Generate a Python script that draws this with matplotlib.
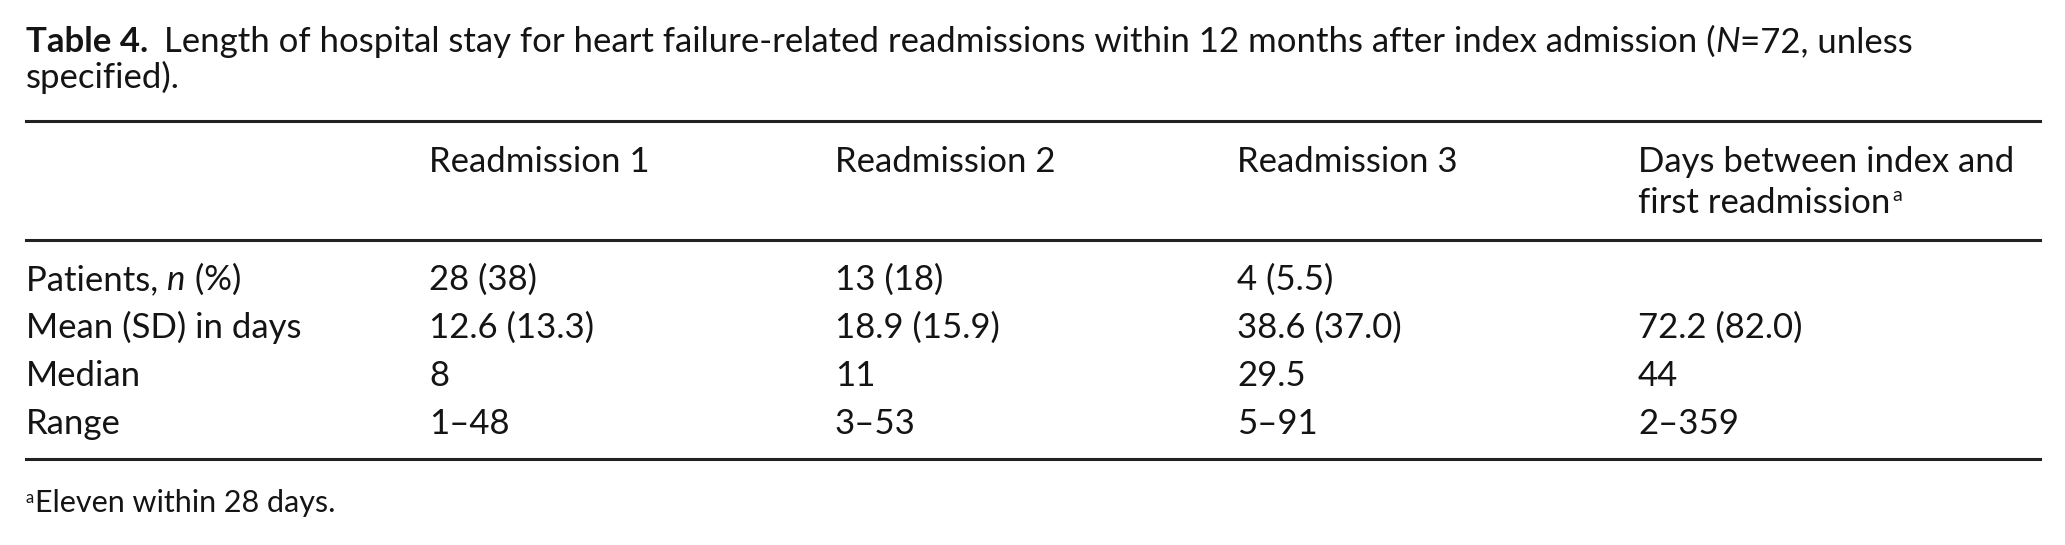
import matplotlib
matplotlib.use("Agg")
import matplotlib.pyplot as plt

W, H = 2065, 545
DPI = 100
FONT = "Lato"
SIZE = 25

col_headers = ["Readmission 1", "Readmission 2", "Readmission 3", "Days between index and\nfirst readmission"]
row_labels = [[("Patients, ", "normal"), ("n", "italic"), (" (%)", "normal")],
              [("Mean (SD) in days", "normal")],
              [("Median", "normal")],
              [("Range", "normal")]]
readm1 = ["28 (38)", "12.6 (13.3)", "8", "1\u201348"]
readm2 = ["13 (18)", "18.9 (15.9)", "11", "3\u201353"]
readm3 = ["4 (5.5)", "38.6 (37.0)", "29.5", "5\u201391"]
days_first = ["", "72.2 (82.0)", "44", "2\u2013359"]
footnote = "Eleven within 28 days."

fig = plt.figure(figsize=(W / DPI, H / DPI), dpi=DPI)
fig.patch.set_facecolor("white")
renderer = fig.canvas.get_renderer()


def fx(x):
    return x / W


def fy(y):
    return 1 - y / H


def put(x, y, s, style="normal", weight="normal", size=SIZE):
    t = fig.text(fx(x), fy(y), s, fontsize=size, family=FONT, style=style,
                 weight=weight, va="baseline", ha="left", color="#141414")
    return t


def put_pieces(x, y, pieces, size=SIZE):
    # draws mixed-style pieces one after the other on a line
    for s, st in pieces:
        t = put(x, y, s, style=st, size=size)
        bb = t.get_window_extent(renderer)
        x = x + bb.width
    return x


def hline(y, lw=2.2):
    fig.add_artist(plt.Line2D([fx(26), fx(2040)], [fy(y), fy(y)], color="#222222", lw=lw))


# title
t = put(26, 52, "Table 4.", weight="bold")
x = t.get_window_extent(renderer).x1
put_pieces(x + 16, 52, [("Length of hospital stay for heart failure-related readmissions within 12 months after index admission (", "normal"),
                        ("N", "italic"), ("=72, unless", "normal")])
put(26, 88, "specified).")

hline(121)
hline(240)
hline(459)

col_x = [429, 835, 1237, 1638]
for cx, h in zip(col_x, col_headers):
    lines = h.split("\n")
    put(cx, 172, lines[0])
    if len(lines) > 1:
        end = put_pieces(cx, 213, [(lines[1], "normal")])
        put(end + 2, 201, "a", size=14)

row_y = [290, 338, 386, 434]
columns = [readm1, readm2, readm3, days_first]
for i, ry in enumerate(row_y):
    put_pieces(26, ry, row_labels[i])
    for cx, col in zip(col_x, columns):
        if col[i]:
            put(cx, ry, col[i])

put(26, 503, "a", size=12)
put(35, 512, footnote, size=22)

fig.savefig("out.png", dpi=DPI)
